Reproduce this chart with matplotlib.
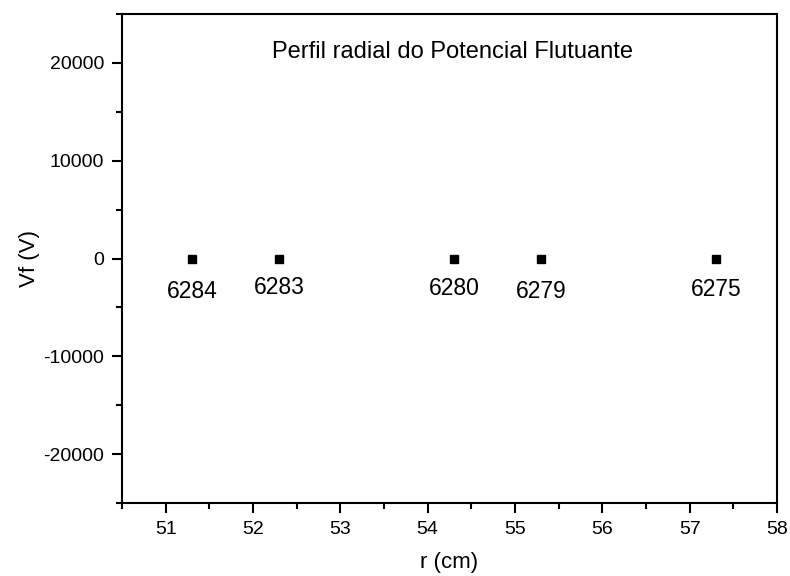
import matplotlib
matplotlib.use("Agg")
import matplotlib.pyplot as plt
from matplotlib.ticker import MultipleLocator

r_cm = [51.3, 52.3, 54.3, 55.3, 57.3]
vf = [0, 0, 0, 0, 0]
shots = ["6284", "6283", "6280", "6279", "6275"]
label_offsets = [-24, -21, -21.5, -24, -22]

plt.rcParams['font.family'] = ['Liberation Sans', 'DejaVu Sans']
plt.rcParams['axes.unicode_minus'] = False

fig = plt.figure(figsize=(7.9, 5.76), dpi=100)
ax = fig.add_axes([122/790, 1 - 503/576, (777-122)/790, (503-14)/576])

ax.plot(r_cm, vf, 's', color='black', markersize=6)
for x, y, s, off in zip(r_cm, vf, shots, label_offsets):
    ax.annotate(s, (x, y), xytext=(0, off), textcoords='offset points',
                ha='center', va='center', fontsize=16.5)

ax.set_xlim(50.5, 58)
ax.set_ylim(-25000, 25000)
ax.xaxis.set_major_locator(MultipleLocator(1))
ax.xaxis.set_minor_locator(MultipleLocator(0.5))
ax.yaxis.set_major_locator(MultipleLocator(10000))
ax.yaxis.set_minor_locator(MultipleLocator(5000))
ax.tick_params(which='both', direction='out', width=1.5, labelsize=14, pad=6)
ax.tick_params(which='major', length=7)
ax.tick_params(which='minor', length=4)
ax.tick_params(axis='y', which='both', left=True, right=False)
ax.tick_params(axis='x', which='both', bottom=True, top=False)
for sp in ax.spines.values():
    sp.set_linewidth(1.5)

ax.set_xlabel('r (cm)', fontsize=16, labelpad=10)
ax.set_ylabel('Vf (V)', fontsize=16, labelpad=2)
ax.text(0.505, 0.922, 'Perfil radial do Potencial Flutuante', transform=ax.transAxes,
        ha='center', va='center', fontsize=17)

fig.savefig('out.png', dpi=100)
